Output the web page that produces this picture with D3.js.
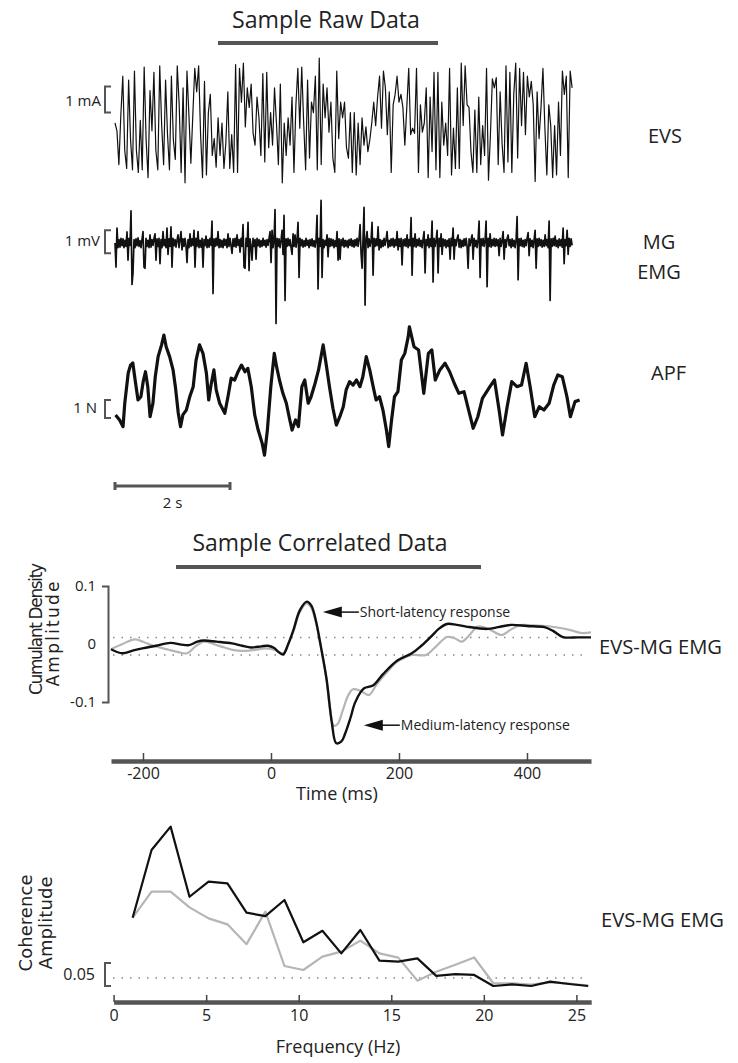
<!DOCTYPE html>
<html lang="en">
<head>
<meta charset="UTF-8">
<title>Sample Raw and Correlated Data</title>
<script src="https://cdnjs.cloudflare.com/ajax/libs/d3/7.8.5/d3.min.js"></script>
<style>
  body { margin: 0; background: #fff; }
  svg { display: block; }
  text { font-family: "Open Sans", sans-serif; fill: #222; }
  .ytitle { font-family: "DejaVu Sans", sans-serif; }
  .bar { fill: none; stroke: #555; }
  .trace { fill: none; stroke: #111; stroke-linejoin: round; }
  .axis .domain { stroke: #555; stroke-width: 4.5; }
  .axis .tick line { stroke: #444; stroke-width: 1.5; }
  .axis text { font-family: "Open Sans", sans-serif; font-size: 16px; fill: #222; }
</style>
</head>
<body>
<div id="chart"></div>
<script>
// ---------------- raw data ----------------
// EVS stimulus current, mA, evenly sampled over evsDuration
var evsDuration = 7.95;
var evsValues = [
  0.0,-0.3,-1.6,0.3,1.8,-1.05,-1.75,1.65,-0.65,-1.8,2.0,-1.05,-1.9,0.1,-1.8,2.15,-0.65,-2.1,1.25,-0.3,
  1.95,-1.05,-1.8,2.2,-0.1,-1.6,1.65,-0.45,-1.8,1.8,-0.65,-1.4,2.2,
  0.7,-1.9,1.35,-2.3,2.0,0.3,-1.55,0.3,2.1,1.2,2.2,-0.45,-2.1,1.6,-2.0,0.4,1.1,-1.25,-0.6,-1.7,
  0.2,-1.25,0.0,-1.75,-0.75,1.2,-1.75,-0.45,-1.9,2.25,-1.9,2.1,0.8,2.3,-0.15,1.35,0.6,1.5,-0.4,-0.85,
  1.0,0.2,-1.25,1.9,-1.5,1.95,-0.95,0.4,-0.85,1.35,0.0,-1.6,1.5,-2.3,0.0,
  -1.25,0.2,-0.85,1.0,-1.9,0.7,2.1,-0.2,2.15,0.0,-1.8,1.65,-1.35,0.8,0.4,1.8,-1.8,2.5,-1.6,1.5,
  0.2,1.35,-0.35,0.8,-1.35,-1.9,2.0,-0.6,0.8,0.2,0.8,-0.95,-1.35,0.4,-1.9,0.4,-2.0,0.0,-1.6,0.2,
  -0.85,-0.15,-1.1,-0.65,0.0,0.8,-0.1,1.0,1.8,-0.2,2.0,1.35,-0.45,1.2,-1.9,0.7,1.1,1.8,0.8,
  1.1,0.6,-0.85,0.6,2.1,-0.45,-0.2,-0.4,2.1,-1.9,0.7,-0.35,0.0,1.35,-2.1,1.0,-1.1,1.95,-1.8,1.95,
  -2.1,0.8,-0.85,0.0,-1.25,2.1,-2.0,-0.2,-1.75,1.35,-1.75,2.3,-0.1,2.2,0.7,0.6,-1.1,-1.9,0.5,-1.9,
  1.0,-1.6,-0.1,-1.25,2.1,-2.2,-0.45,1.7,1.35,1.75,-1.6,1.2,-0.8,-1.9,2.2,-1.5,1.95,-1.9,1.1,2.3,
  -1.35,2.1,-0.1,1.95,-0.45,1.8,1.0,1.6,0.7,-2.25,1.2,-0.6,0.6,2.1,-0.2,-2.0,0.7,-0.1,-2.1,-0.1,
  -2.0,0.8,-1.25,2.0,1.1,1.8,-2.1,2.0,1.35
];

// MG EMG, mV, evenly sampled over emgDuration
var emgDuration = 7.95;
var emgValues = [
  0,-1.05,0.65,-0.2,0.15,-0.18,0.2,-0.12,0.18,-0.2,
  0.12,-0.15,0.48,-0.75,0.2,-0.1,1.4,-1.8,-1.3,0.15,
  -0.2,0.18,-0.12,0.22,-0.15,0.1,-0.2,0.15,0.5,-1.05,
  -1.1,0.2,-0.15,0.12,-0.2,0.35,-0.18,0.15,-0.1,0.2,
  0.4,-0.75,0.18,-0.15,0.2,-0.9,0.15,-0.2,0.5,-0.12,
  0.15,-0.2,0.65,-0.5,0.18,-0.15,0.7,-1.05,0.2,-0.12,
  0.15,-0.18,0.12,0.35,-0.2,0.15,0.5,-0.3,0.18,-0.15,
  0.2,-0.12,-0.85,0.15,-0.2,0.4,-0.15,0.18,-0.1,0.55,
  -1.05,0.2,-0.15,0.5,-0.2,0.12,-0.18,0.2,-1.05,0.15,
  -0.12,0.3,-0.2,0.15,-0.18,0.2,-0.1,0.95,-2.2,0.18,
  -0.15,0.2,-0.12,0.5,-0.2,0.15,-0.18,0.12,-0.2,0.18,
  -0.1,0.15,-0.2,0.4,-0.15,0.2,-0.12,-0.45,0.18,-0.15,
  0.2,-0.18,0.35,-0.1,0.15,-0.4,0.2,-0.15,0.8,-1.05,
  -1.1,0.2,-0.15,0.9,-1.2,0.18,-0.12,-0.75,0.2,-0.15,
  0.15,-0.7,0.2,-0.12,0.15,-0.18,0.1,-0.15,0.2,-0.1,
  0.12,-0.18,0.15,-0.1,0.2,0.5,-0.85,0.55,-0.2,0.15,
  1.45,-3.5,0.2,-0.15,0.18,-0.2,0.12,0.55,-0.5,1.2,
  -2.5,0.18,-0.15,0.2,-0.12,0.15,-0.2,-0.5,0.4,-0.15,
  0.35,-0.18,0.15,0.9,-1.5,0.2,-0.12,0.15,-0.18,0.1,
  -0.15,0.2,-0.1,0.12,-0.2,0.15,-0.12,0.18,-0.15,0.1,
  -0.18,0.15,1.2,-2.0,0.2,-0.15,1.85,-1.5,0.15,-0.2,
  0.12,-0.1,0.35,-0.6,0.2,-0.15,0.18,-0.12,0.15,-0.2,
  0.1,-0.15,0.5,-0.75,0.18,-0.7,0.15,-0.12,0.2,-0.18,
  0.12,-0.15,0.1,-0.2,0.15,-0.1,0.18,-0.15,0.12,-0.18,
  0.15,-0.12,0.2,-0.15,0.18,0.8,-0.45,-1.1,0.2,1.55,
  -2.7,0.15,0.5,-0.2,0.18,-0.15,0.12,0.9,-1.4,0.2,
  -0.15,0.18,-0.12,0.7,-0.3,0.15,-0.2,0.12,-0.15,0.2,
  -0.1,0.15,0.5,-0.2,0.12,-0.15,0.18,-0.12,0.2,-0.18,
  0.15,-0.12,0.5,-0.3,0.18,-0.15,0.2,-0.95,0.15,-0.12,
  0.18,-0.15,0.35,-0.2,0.15,-0.12,1.1,-1.4,0.2,-0.15,
  0.4,-0.18,0.15,-0.12,0.2,-0.15,0.12,-0.2,0.18,0.5,
  -1.3,0.15,-0.12,0.35,-0.2,0.18,-0.15,0.95,-1.7,0.2,
  -0.15,0.12,0.55,-1.3,0.2,-0.15,0.4,-0.5,0.18,-0.12,
  0.15,-0.2,0.12,-0.15,0.18,-0.7,0.2,-0.12,0.65,-0.7,
  0.15,-0.12,0.2,0.35,-0.18,0.15,-0.2,0.12,-0.15,0.18,
  -0.12,0.2,-0.15,-1.1,0.18,-0.12,0.15,0.35,-0.7,0.2,
  -0.15,0.12,-0.2,0.15,0.95,-1.5,0.18,-0.12,0.2,-0.15,
  0.12,0.95,-1.9,0.2,-0.15,0.4,-0.18,0.15,-0.12,0.2,
  -0.15,0.18,-0.12,0.15,-0.55,0.2,-0.15,0.12,0.5,-0.7,
  0.15,-0.18,0.2,0.35,-0.12,0.15,-0.2,0.18,-0.15,0.12,
  -0.2,0.15,1.15,-1.6,0.18,-0.12,0.2,-0.15,0.12,-0.18,
  0.15,-0.12,0.2,0.45,-0.55,0.18,-0.15,0.12,-0.2,0.15,
  0.55,-1.1,0.18,-0.15,0.2,-0.12,0.15,-0.18,0.12,-0.15,
  0.35,-0.12,0.15,-0.2,0.95,-2.5,0.18,-0.15,0.2,-0.12,
  0.3,-0.15,0.12,-0.2,0.18,-0.12,0.15,-0.18,0.65,-0.9,
  0.15,-0.12,0.55,-0.5,0.2,-0.15,0.18,-0.1
];

// APF force, N, at the listed times (s)
var apfTime = [
  0.01,0.08,0.14,0.17,0.23,0.27,0.31,0.35,0.40,0.45,0.49,0.53,0.57,0.61,0.66,0.70,0.75,0.81,0.85,0.89,
  0.95,1.01,1.05,1.10,1.14,1.18,1.24,1.30,1.36,1.41,1.47,1.53,1.59,1.63,1.67,1.72,1.76,1.82,1.91,1.97,
  2.02,2.08,2.14,2.20,2.26,2.31,2.37,2.43,2.49,2.56,2.60,2.65,2.71,2.77,2.81,2.86,2.92,2.98,3.04,3.08,
  3.14,3.19,3.25,3.30,3.36,3.41,3.48,3.54,3.62,3.67,3.73,3.79,3.85,3.91,3.97,4.02,4.08,4.14,4.20,4.26,
  4.31,4.37,4.43,4.49,4.54,4.60,4.66,4.72,4.76,4.81,4.86,4.92,4.98,5.04,5.10,5.12,5.20,5.28,5.37,5.45,
  5.51,5.57,5.65,5.74,5.82,5.90,5.98,6.07,6.15,6.23,6.31,6.39,6.52,6.60,6.68,6.74,6.82,6.90,6.99,7.07,
  7.15,7.22,7.30,7.38,7.46,7.55,7.63,7.70,7.78,7.86,7.92,8.00,8.08
];
var apfForce = [
  -0.33,-0.61,-0.98,0.33,2.0,2.44,2.56,1.61,0.5,0.68,1.52,2.07,1.24,-0.43,0.33,1.79,2.91,3.56,4.11,3.46,
  2.91,2.17,1.24,-0.22,-0.98,-0.33,-0.06,0.68,1.24,2.72,3.56,3.09,1.98,0.5,1.33,2.17,1.06,0.32,-0.24,0.78,
  1.71,1.61,2.07,2.44,2.07,2.26,1.24,-0.33,-1.17,-1.91,-2.56,-1.17,1.24,3.09,2.35,1.61,0.87,0.32,-0.61,-1.17,
  -0.61,-0.98,1.24,1.61,0.32,0.68,1.43,2.17,3.56,2.54,1.24,0.04,-0.89,-0.43,0.13,1.06,1.52,1.33,1.61,1.24,
  1.79,2.91,2.17,1.24,0.5,0.68,-0.06,-1.17,-2.09,-0.61,0.68,0.96,2.72,3.09,4.02,4.57,3.46,3.28,0.87,3.09,
  3.28,1.61,2.17,2.54,2.07,1.43,0.87,0.96,-0.06,-1.07,-0.43,0.59,1.24,1.61,-0.06,-1.44,0.13,1.52,1.24,1.33,
  2.54,1.24,-0.43,0.13,-0.06,0.32,1.33,1.89,1.79,0.68,-0.43,0.41,0.5
];

// ---------------- cumulant density (EVS-MG EMG) ----------------
var cumTimeBlack = [-250,-232,-215,-201,-180,-157,-140,-128,-115,-105,-85,-61,-45,-31,-15,-5,5,12,19,27,
  35,45,56,63,70,78,87,95,102,110,116,124,131,140,146,160,175,198,220,235,250,262,275,290,305,338,355,375,
  400,427,440,456,480,500];
var cumBlack = [-0.009,-0.016,-0.011,-0.0075,-0.003,0.002,-0.001,-0.002,0.004,0.006,0.004,0.001,-0.003,-0.006,
  -0.004,-0.003,-0.007,-0.014,-0.018,0.000,0.024,0.058,0.073,0.066,0.041,-0.005,-0.062,-0.135,-0.171,-0.168,
  -0.154,-0.128,-0.102,-0.083,-0.076,-0.071,-0.052,-0.028,-0.016,-0.003,0.0126,0.026,0.0345,0.033,0.030,0.026,
  0.029,0.033,0.031,0.029,0.023,0.012,0.0115,0.0115];
var cumTimeGray = [-250,-232,-213,-200,-187,-160,-145,-131,-118,-105,-90,-76,-60,-46,-25,-9,5,12,19,27,
  35,45,56,63,70,78,86,92,98,104,112,120,128,140,153,165,180,198,220,242,258,275,287,298,310,323,340,360,
  375,390,410,430,450,468,485,500];
var cumGray = [-0.009,0.000,0.008,0.004,-0.002,-0.010,-0.014,-0.016,-0.004,0.004,0.000,-0.005,-0.010,-0.012,
  -0.010,-0.0075,-0.010,-0.014,-0.016,0.000,0.022,0.055,0.070,0.062,0.038,-0.005,-0.055,-0.110,-0.141,-0.138,
  -0.115,-0.090,-0.078,-0.081,-0.088,-0.070,-0.050,-0.030,-0.019,-0.019,-0.004,0.012,0.010,0.004,0.015,0.030,
  0.026,0.0155,0.025,0.0328,0.032,0.031,0.028,0.024,0.019,0.020];
var cumConfidence = [0.011, -0.019];
var timeTicks = [-200, 0, 200, 400];
var cumTicks = [0.1, 0, -0.1];
var arrowTimes = [81, 145];
var arrowValues = [0.055, -0.14];
var arrowLabels = ["Short-latency response", "Medium-latency response"];

// ---------------- coherence (EVS-MG EMG) ----------------
var freqs = [1.03,2.05,3.08,4.1,5.13,6.15,7.18,8.2,9.23,10.25,11.28,12.3,13.33,14.36,15.38,16.41,17.43,
  18.46,19.48,20.51,21.53,22.56,23.58,24.61,25.64];
var cohBlack = [0.1485,0.2957,0.3464,0.194,0.2268,0.2232,0.1594,0.152,0.187,0.095,0.120,0.071,0.1217,0.055,
  0.053,0.060,0.022,0.026,0.024,0.000,0.0036,0.000,0.0094,0.0043,0.000];
var cohGray = [0.1485,0.205,0.205,0.171,0.147,0.134,0.091,0.1616,0.0435,0.0348,0.0638,0.0746,0.0986,0.071,
  0.0616,0.0116,0.031,0.046,0.062,0.006,0.006,0.003,0.008,0.005,0.001];
var cohConfidence = 0.0175;
var freqTicks = [0, 5, 10, 15, 20, 25];

// ---------------- drawing ----------------
var svg = d3.select("#chart").append("svg")
    .attr("width", 738)
    .attr("height", 1063);

function label(x, y, str, size, anchor, len) {
  var t = svg.append("text")
      .attr("x", x).attr("y", y)
      .attr("text-anchor", anchor || "start")
      .style("font-size", size + "px")
      .text(str);
  if (len) t.attr("textLength", len).attr("lengthAdjust", "spacingAndGlyphs");
  return t;
}

function vlabel(x, y, str, size, len) {
  svg.append("text")
      .attr("class", "ytitle")
      .attr("transform", "translate(" + x + "," + y + ") rotate(-90)")
      .attr("text-anchor", "middle")
      .attr("textLength", len).attr("lengthAdjust", "spacing")
      .style("font-size", size + "px")
      .text(str);
}

// "[" shaped scale bracket between two pixel positions
function bracket(x, y0, y1) {
  svg.append("path").attr("class", "bar").attr("stroke-width", 2)
      .attr("d", "M" + (x + 6) + "," + y0 + "H" + x + "V" + y1 + "H" + (x + 6));
}

function titleBar(x0, x1, y) {
  svg.append("line").attr("class", "bar").attr("stroke-width", 4)
      .attr("x1", x0).attr("x2", x1).attr("y1", y).attr("y2", y);
}

// --- raw traces ---
var tRaw = d3.scaleLinear().domain([0, 8]).range([115, 575]);
var yEvs = d3.scaleLinear().domain([-1, 1]).range([149, 97]);
var yEmg = d3.scaleLinear().domain([-1, 1]).range([266, 220]);
var yApf = d3.scaleLinear().domain([-1, 1]).range([427, 391]);

label(326, 28, "Sample Raw Data", 23, "middle", 188);
titleBar(218, 438, 43);

svg.append("path").attr("class", "trace").attr("stroke-width", 1.2)
    .attr("d", d3.line()
      .x(function(d, i) { return tRaw(i * evsDuration / (evsValues.length - 1)); })
      .y(function(d) { return yEvs(d); })(evsValues));

svg.append("path").attr("class", "trace").attr("stroke-width", 1.7)
    .attr("d", d3.line()
      .x(function(d, i) { return tRaw(i * emgDuration / (emgValues.length - 1)); })
      .y(function(d) { return yEmg(d); })(emgValues));

svg.append("path").attr("class", "trace").attr("stroke-width", 3.2)
    .attr("d", d3.line()
      .x(function(d, i) { return tRaw(apfTime[i]); })
      .y(function(d) { return yApf(d); })(apfForce));

bracket(105, yEvs(1.4), yEvs(0.4));
label(101, 106, "1 mA", 15, "end");
bracket(105, yEmg(0.55), yEmg(-0.45));
label(100, 246, "1 mV", 15, "end");
bracket(105, yApf(0.5), yApf(-0.5));
label(97, 413, "1 N", 15, "end");

label(648, 143, "EVS", 20);
label(659, 249, "MG", 20, "middle");
label(659, 279, "EMG", 20, "middle");
label(651, 380, "APF", 20);

// 2 s time scale bar
svg.append("path").attr("class", "bar").attr("stroke-width", 3)
    .attr("d", "M" + tRaw(0) + ",482V490M" + tRaw(0) + ",486H" + tRaw(2) + "M" + tRaw(2) + ",482V490");
label((tRaw(0) + tRaw(2)) / 2, 508, "2 s", 15, "middle");

// --- cumulant density ---
var xCum = d3.scaleLinear().domain([-250, 500]).range([111, 591]);
var yCum = d3.scaleLinear().domain([-0.1, 0.1]).range([702, 586]);

label(320, 551, "Sample Correlated Data", 23, "middle", 255);
titleBar(176, 481, 567);

cumConfidence.forEach(function(c) {
  svg.append("line").attr("x1", 113).attr("x2", 589)
      .attr("y1", yCum(c)).attr("y2", yCum(c))
      .attr("stroke", "#888").attr("stroke-width", 1.5).attr("stroke-dasharray", "1.5,7");
});

var cumLine = d3.line().curve(d3.curveCatmullRom.alpha(0.5));
svg.append("path").attr("fill", "none").attr("stroke", "#b5b5b5").attr("stroke-width", 2.2)
    .attr("d", cumLine.x(function(d, i) { return xCum(cumTimeGray[i]); })
      .y(function(d) { return yCum(d); })(cumGray));
svg.append("path").attr("fill", "none").attr("stroke", "#111").attr("stroke-width", 2.4)
    .attr("d", cumLine.x(function(d, i) { return xCum(cumTimeBlack[i]); })
      .y(function(d) { return yCum(d); })(cumBlack));

svg.append("g").attr("class", "axis")
    .attr("transform", "translate(0,761)")
    .call(d3.axisBottom(xCum).tickValues(timeTicks).tickSize(-8).tickSizeOuter(0).tickPadding(7)
      .tickFormat(function(d) { return String(d); }));

var yAx = svg.append("g").attr("class", "axis yax")
    .attr("transform", "translate(108,0)")
    .call(d3.axisLeft(yCum).tickValues(cumTicks).tickSize(0).tickSizeOuter(6).tickPadding(12)
      .tickFormat(function(d) { return String(d); }));
yAx.select(".domain").style("stroke-width", 2);
yAx.selectAll("text").style("font-size", "15px");

label(337, 800, "Time (ms)", 18, "middle");
vlabel(42, 629, "Cumulant Density", 17, 132);
vlabel(59, 634, "Amplitude", 17, 105);
label(599, 654, "EVS-MG EMG", 20, "start", 123);

arrowLabels.forEach(function(txt, i) {
  var ax = xCum(arrowTimes[i]), ay = yCum(arrowValues[i]);
  svg.append("path").attr("fill", "#111")
      .attr("d", "M" + ax + "," + ay + "L" + (ax + 19) + "," + (ay - 5.5) + "L" + (ax + 19) + "," + (ay + 5.5) + "Z");
  svg.append("line").attr("x1", ax + 18).attr("x2", ax + 36).attr("y1", ay).attr("y2", ay)
      .attr("stroke", "#111").attr("stroke-width", 1.5);
  label(ax + 37, ay + 5, txt, 14);
});

// --- coherence ---
var xCoh = d3.scaleLinear().domain([0, 25.8]).range([113.6, 591.2]);
var yCoh = d3.scaleLinear().domain([0, 0.05]).range([986, 963]);

svg.append("line").attr("x1", 113).attr("x2", 589)
    .attr("y1", yCoh(cohConfidence)).attr("y2", yCoh(cohConfidence))
    .attr("stroke", "#888").attr("stroke-width", 1.5).attr("stroke-dasharray", "1.5,7");

var cohLine = d3.line().x(function(d, i) { return xCoh(freqs[i]); }).y(function(d) { return yCoh(d); });
svg.append("path").attr("fill", "none").attr("stroke", "#b5b5b5").attr("stroke-width", 2.2)
    .attr("stroke-linejoin", "round").attr("d", cohLine(cohGray));
svg.append("path").attr("fill", "none").attr("stroke", "#111").attr("stroke-width", 2.2)
    .attr("stroke-linejoin", "round").attr("d", cohLine(cohBlack));

svg.append("g").attr("class", "axis")
    .attr("transform", "translate(0,1002)")
    .call(d3.axisBottom(xCoh).tickValues(freqTicks).tickSize(-7).tickSizeOuter(0).tickPadding(8));

bracket(105, yCoh(0.05), yCoh(0));
label(95, 980, "0.05", 16, "end");
label(338, 1053, "Frequency (Hz)", 18, "middle");
vlabel(32, 923, "Coherence", 18, 97);
vlabel(52, 923, "Amplitude", 18, 93);
label(601, 927, "EVS-MG EMG", 20, "start", 123);
</script>
</body>
</html>
